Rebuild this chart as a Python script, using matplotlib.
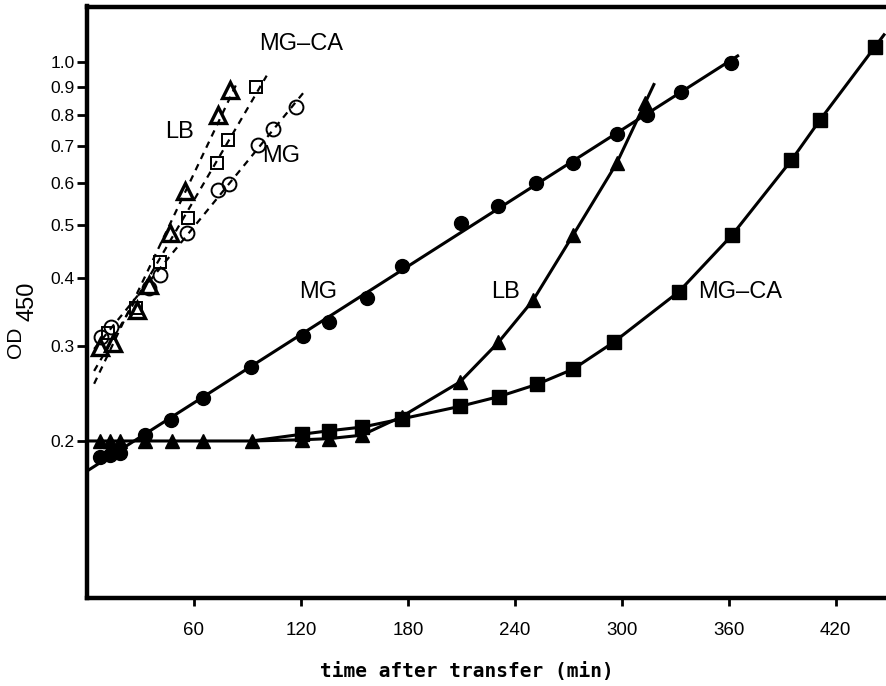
import numpy as np
import matplotlib
matplotlib.use("Agg")
import matplotlib.pyplot as plt
from matplotlib.ticker import FixedLocator, FixedFormatter, NullLocator

# ---------------- data (time in min, OD450) ----------------
# open symbols: exponential-phase cultures (dashed fits)
lb_open_t = [7.3, 14.6, 27.9, 34.8, 46.5, 55.0, 73.5, 80.2]
lb_open_od = [0.298, 0.303, 0.349, 0.388, 0.484, 0.579, 0.799, 0.889]
mgca_open_t = [12.0, 27.5, 41.0, 56.6, 72.7, 78.9, 95.0]
mgca_open_od = [0.316, 0.352, 0.428, 0.516, 0.651, 0.719, 0.901]
mg_open_t = [7.9, 13.5, 34.8, 41.0, 55.9, 73.6, 79.8, 96.0, 104.2, 117.2]
mg_open_od = [0.311, 0.325, 0.383, 0.405, 0.484, 0.581, 0.596, 0.704, 0.753, 0.827]

# filled symbols: after transfer
mg_t = [7.3, 12.9, 18.5, 32.5, 47.1, 65.2, 91.8, 120.9, 135.9, 156.9, 176.5,
        209.8, 230.7, 251.8, 272.4, 297.1, 314.2, 333.0, 361.0]
mg_od = [0.187, 0.1885, 0.190, 0.205, 0.219, 0.240, 0.274, 0.313, 0.332, 0.368,
         0.421, 0.505, 0.543, 0.599, 0.653, 0.737, 0.800, 0.883, 0.996]
lb_t = [7.3, 12.9, 18.5, 32.5, 47.8, 65.2, 92.4, 120.4, 135.7, 154.2, 176.5,
        209.2, 230.7, 250.3, 272.7, 297.1, 313.0]
lb_od = [0.200, 0.200, 0.200, 0.200, 0.200, 0.200, 0.200, 0.201, 0.202, 0.205,
         0.2218, 0.257, 0.304, 0.364, 0.480, 0.651, 0.840]
mgca_t = [120.4, 136.0, 154.5, 176.5, 209.5, 231.0, 252.2, 272.7, 295.5, 332.0,
          361.9, 395.2, 411.1, 442.1]
mgca_od = [0.2058, 0.2089, 0.2122, 0.2197, 0.2318, 0.2415, 0.2543, 0.2714,
           0.3044, 0.3772, 0.480, 0.660, 0.782, 1.069]

x_ticks = [60, 120, 180, 240, 300, 360, 420]
y_ticks = [0.2, 0.3, 0.4, 0.5, 0.6, 0.7, 0.8, 0.9, 1.0]
y_ticklabels = ["0.2", "0.3", "0.4", "0.5", "0.6", "0.7", "0.8", "0.9", "1.0"]

# ---------------- figure ----------------
plt.rcParams["font.family"] = ["Liberation Sans", "DejaVu Sans"]
W, H = 886, 686
fig = plt.figure(figsize=(W / 100, H / 100), dpi=100)
ax = fig.add_axes([87 / W, 1 - 598 / H, 820 / W, (598 - 6.5) / H])
ax.set_yscale("log")
ax.set_xlim(0, 460)
ax.set_ylim(0.1026, 1.268)

LW = 2.2
K = "black"


def fit_line(t, od, t0, t1):
    p = np.polyfit(np.asarray(t), np.log10(od), 1)
    tt = np.array([t0, t1])
    return tt, 10 ** np.polyval(p, tt)


def extend(t, od, dt):
    t = np.asarray(t, float)
    od = np.asarray(od, float)
    slope = (np.log10(od[-1]) - np.log10(od[-2])) / (t[-1] - t[-2])
    return t[-1] + dt, od[-1] * 10 ** (slope * dt)


# dashed fits for open symbols
dash = (0, (3.0, 2.6))
for t, od, t1 in [(lb_open_t, lb_open_od, 84.7),
                  (mgca_open_t, mgca_open_od, 100.8),
                  (mg_open_t, mg_open_od, 122.0)]:
    tt, yy = fit_line(t, od, 4.0, t1)
    ax.plot(tt, yy, color=K, lw=1.6, ls=dash, zorder=2)

ax.plot(mg_open_t, mg_open_od, ls="none", marker="o", ms=10, mfc="none",
        mec=K, mew=1.4, zorder=3)
ax.plot(mgca_open_t, mgca_open_od, ls="none", marker="s", ms=8.5, mfc="none",
        mec=K, mew=1.4, zorder=3)
ax.plot(lb_open_t, lb_open_od, ls="none", marker="^", ms=12, mfc="none",
        mec=K, mew=2.4, zorder=3)

# solid lines for filled symbols
tt, yy = fit_line(mg_t, mg_od, 0.0, mg_t[-1] + 4)
ax.plot(tt, yy, color=K, lw=LW, zorder=2)

te, ye = extend(lb_t, lb_od, 5.0)
ax.plot([0] + lb_t + [te], [lb_od[0]] + lb_od + [ye], color=K, lw=LW, zorder=2)

# MG-CA shares the lag-phase line, branching off after the last common lag point
te, ye = extend(mgca_t, mgca_od, 5.0)
ax.plot([lb_t[6]] + mgca_t + [te], [lb_od[6]] + mgca_od + [ye], color=K,
        lw=LW, zorder=2)

ax.plot(mgca_t, mgca_od, ls="none", marker="s", ms=9.5, color=K, zorder=4)
ax.plot(lb_t, lb_od, ls="none", marker="^", ms=10.5, color=K, zorder=4)
ax.plot(mg_t, mg_od, ls="none", marker="o", ms=10, color=K, zorder=5)

# curve labels
lab = dict(fontsize=17, color=K, ha="center", va="center")
ax.text(120.0, 1.08, "MG\u2013CA", **lab)
ax.text(52.0, 0.745, "LB", **lab)
ax.text(109.0, 0.671, "MG", **lab)
ax.text(129.5, 0.377, "MG", **lab)
ax.text(234.5, 0.377, "LB", **lab)
ax.text(366.5, 0.377, "MG\u2013CA", **lab)

# axes styling
for s in ["left", "bottom", "top"]:
    ax.spines[s].set_linewidth(3.2)
ax.spines["right"].set_visible(False)

ax.xaxis.set_major_locator(FixedLocator(x_ticks))
ax.xaxis.set_minor_locator(NullLocator())
ax.yaxis.set_major_locator(FixedLocator(y_ticks))
ax.yaxis.set_major_formatter(FixedFormatter(y_ticklabels))
ax.yaxis.set_minor_locator(NullLocator())
ax.yaxis.set_minor_formatter(FixedFormatter([]))
ax.tick_params(axis="x", direction="out", length=6, width=2, pad=11,
               labelsize=13.5)
ax.tick_params(axis="y", direction="out", length=7, width=2, pad=2,
               labelsize=12.5)

fig.text(467 / W, 1 - 671 / H, "time after transfer (min)",
         family="DejaVu Sans Mono", fontweight="bold", fontsize=14,
         ha="center", va="center")
fig.text(15 / W, 1 - 342 / H, "OD", rotation=90, fontsize=15,
         ha="center", va="center")
fig.text(27.5 / W, 1 - 301 / H, "450", rotation=90, fontsize=17,
         ha="center", va="center")

fig.savefig("out.png", dpi=100)
